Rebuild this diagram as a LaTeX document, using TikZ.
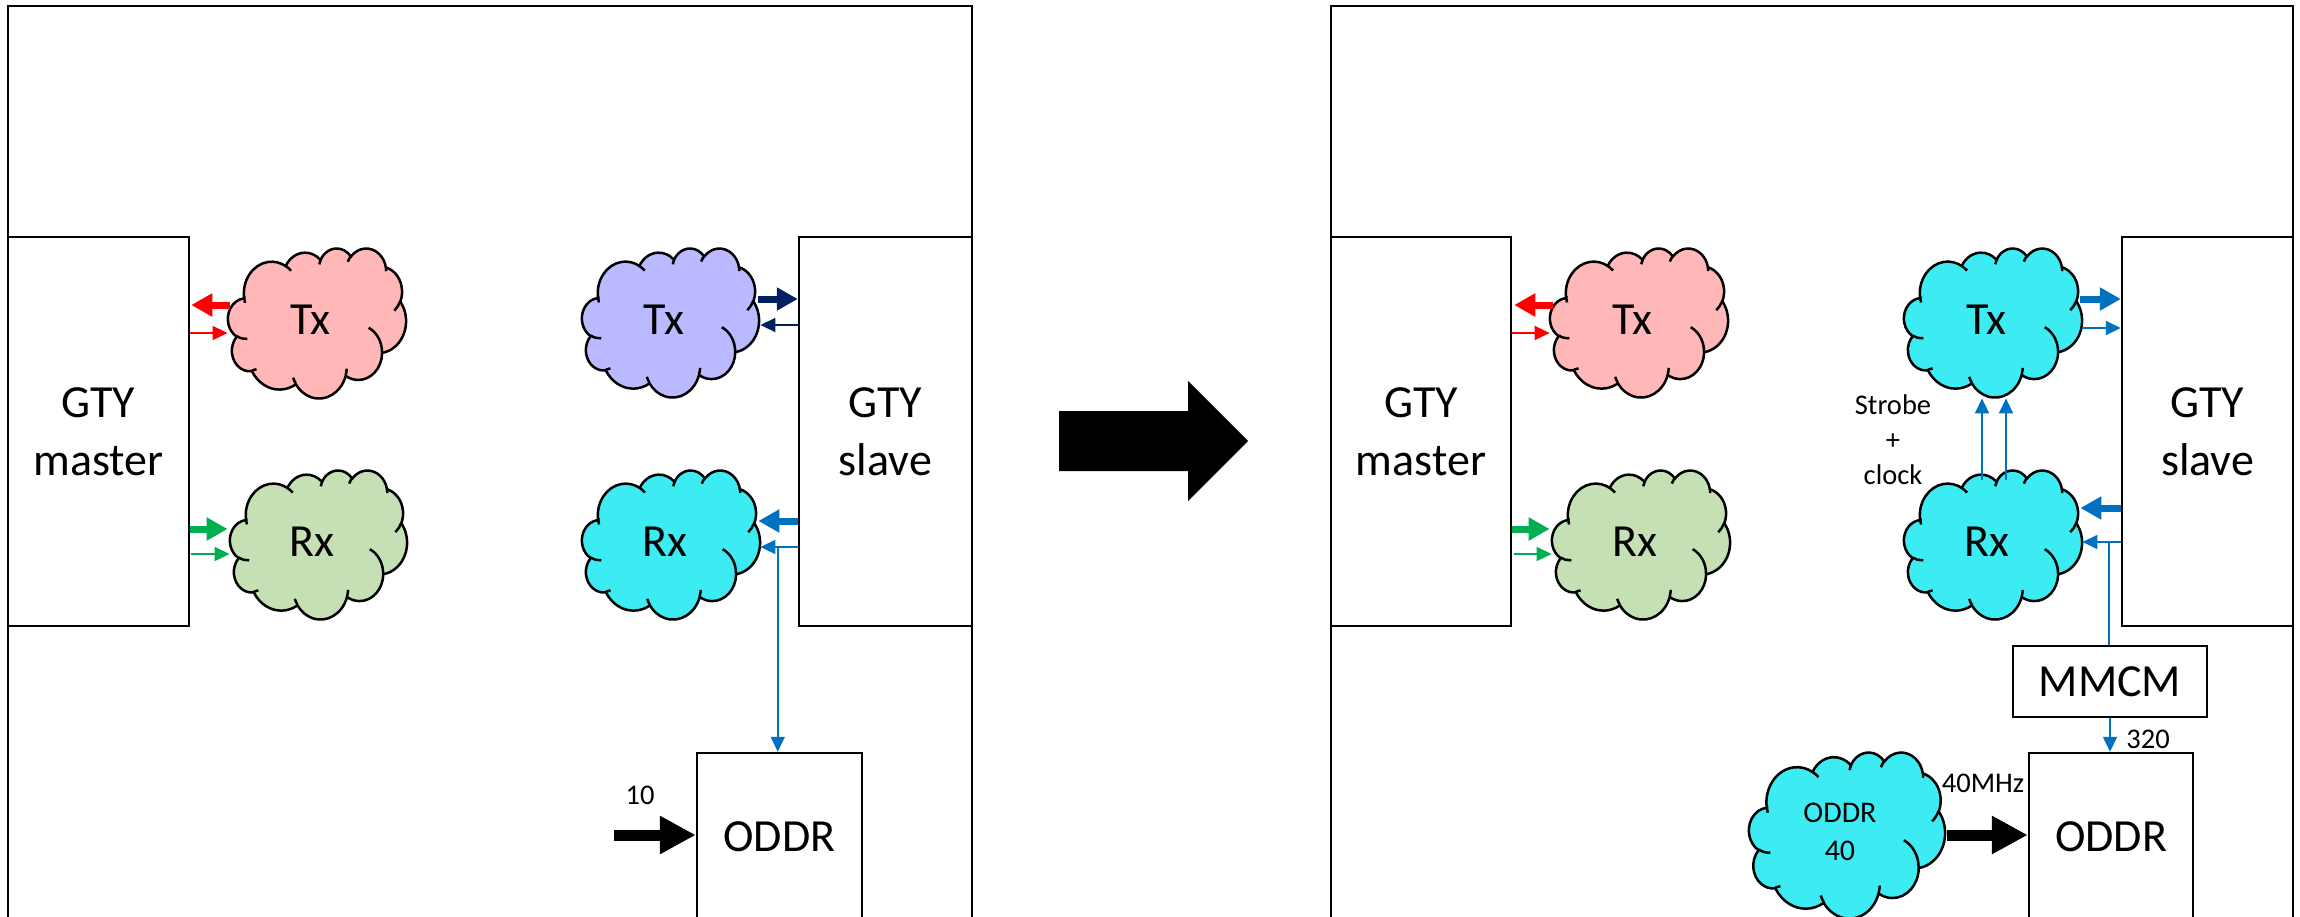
\documentclass[tikz,border=0pt]{standalone}
\usepackage{fontspec}
\setmainfont{Carlito}
\usetikzlibrary{arrows.meta,calc}

\definecolor{cpink}{RGB}{255,183,183}
\definecolor{cgreen}{RGB}{197,224,180}
\definecolor{cpurple}{RGB}{187,185,255}
\definecolor{ccyan}{RGB}{61,235,243}
\definecolor{ared}{RGB}{255,0,0}
\definecolor{agreen}{RGB}{0,176,80}
\definecolor{anavy}{RGB}{0,32,96}
\definecolor{ablue}{RGB}{0,112,192}

\newcommand\bigf{\fontsize{23}{29}\selectfont}
\newcommand\smallf{\fontsize{14.25}{17.5}\selectfont}
\newcommand\midf{\fontsize{15}{19}\selectfont}

% convert DrawingML (visual) angles to parametric TikZ angles
\newcommand\defarc[5]{%
  \pgfmathsetmacro\clTa{atan2((#2)*sin(#4),(#3)*cos(#4))}%
  \pgfmathsetmacro\clTb{atan2((#2)*sin((#4)+(#5)),(#3)*cos((#4)+(#5)))}%
  \pgfmathsetmacro\clTd{\clTb-\clTa}%
  \ifdim #5pt>0pt
    \ifdim \clTd pt<0pt \pgfmathsetmacro\clTd{\clTd+360}\fi
  \else
    \ifdim \clTd pt>0pt \pgfmathsetmacro\clTd{\clTd-360}\fi
  \fi
  \expandafter\xdef\csname cloudS#1\endcsname{\clTa}%
  \expandafter\xdef\csname cloudD#1\endcsname{\clTd}%
}
\defarc{A}{6.753}{9.190}{-190.4875}{123.7805}
\defarc{B}{5.333}{7.267}{-144.1024}{89.9452}
\defarc{C}{4.365}{5.945}{-145.8079}{99.7230}
\defarc{D}{4.857}{6.595}{-130.9861}{117.2417}
\defarc{E}{5.333}{7.273}{-78.7089}{109.0269}
\defarc{F}{6.775}{9.220}{-46.2673}{130.2690}
\defarc{G}{5.785}{7.867}{0.6250}{114.0333}
\defarc{H}{6.752}{9.215}{22.4516}{115.1726}
\defarc{I}{7.720}{10.543}{66.2426}{75.7110}
\defarc{J}{4.360}{5.918}{-274.9421}{146.7356}
\defarc{K}{4.345}{5.945}{-246.8285}{152.5189}
\defarc{a}{4.345}{5.945}{86.7420}{26.4295}
\defarc{b}{4.360}{5.918}{73.6105}{11.4475}
\defarc{c}{6.752}{9.215}{137.6242}{14.0811}
\defarc{d}{6.752}{9.215}{6.4533}{15.9984}
\defarc{e}{5.785}{7.867}{-70.2924}{70.9174}
\defarc{f}{5.333}{7.273}{30.3180}{27.7515}
\defarc{g}{4.857}{6.595}{-13.7443}{14.8589}
\defarc{h}{4.857}{6.595}{-149.1815}{18.1954}
\defarc{i}{4.365}{5.945}{-163.4943}{17.6864}
\defarc{j}{6.753}{9.190}{-66.7070}{12.3194}
\defarc{k}{6.753}{9.190}{162.0359}{15.6123}

\newcommand\drawcloud[1]{%
  \filldraw[cloudline, fill=#1] (3.900,14.370)
   arc[start angle=\cloudSA, delta angle=\cloudDA, x radius=6.753, y radius=9.190]
   arc[start angle=\cloudSB, delta angle=\cloudDB, x radius=5.333, y radius=7.267]
   arc[start angle=\cloudSC, delta angle=\cloudDC, x radius=4.365, y radius=5.945]
   arc[start angle=\cloudSD, delta angle=\cloudDD, x radius=4.857, y radius=6.595]
   arc[start angle=\cloudSE, delta angle=\cloudDE, x radius=5.333, y radius=7.273]
   arc[start angle=\cloudSF, delta angle=\cloudDF, x radius=6.775, y radius=9.220]
   arc[start angle=\cloudSG, delta angle=\cloudDG, x radius=5.785, y radius=7.867]
   arc[start angle=\cloudSH, delta angle=\cloudDH, x radius=6.752, y radius=9.215]
   arc[start angle=\cloudSI, delta angle=\cloudDI, x radius=7.720, y radius=10.543]
   arc[start angle=\cloudSJ, delta angle=\cloudDJ, x radius=4.360, y radius=5.918]
   arc[start angle=\cloudSK, delta angle=\cloudDK, x radius=4.345, y radius=5.945]
   -- cycle;
  \draw[cloudline]
   (4.693,26.177) arc[start angle=\cloudSa, delta angle=\cloudDa, x radius=4.345, y radius=5.945]
   (6.928,34.899) arc[start angle=\cloudSb, delta angle=\cloudDb, x radius=4.360, y radius=5.918]
   (16.478,39.090) arc[start angle=\cloudSc, delta angle=\cloudDc, x radius=6.752, y radius=9.215]
   (28.827,34.751) arc[start angle=\cloudSd, delta angle=\cloudDd, x radius=6.752, y radius=9.215]
   (34.129,22.954) arc[start angle=\cloudSe, delta angle=\cloudDe, x radius=5.785, y radius=7.867]
   (41.798,15.354) arc[start angle=\cloudSf, delta angle=\cloudDf, x radius=5.333, y radius=7.273]
   (38.324,5.426) arc[start angle=\cloudSg, delta angle=\cloudDg, x radius=4.857, y radius=6.595]
   (29.078,3.952) arc[start angle=\cloudSh, delta angle=\cloudDh, x radius=4.857, y radius=6.595]
   (22.141,4.720) arc[start angle=\cloudSi, delta angle=\cloudDi, x radius=4.365, y radius=5.945]
   (14.000,5.192) arc[start angle=\cloudSj, delta angle=\cloudDj, x radius=6.753, y radius=9.190]
   (4.127,15.789) arc[start angle=\cloudSk, delta angle=\cloudDk, x radius=6.753, y radius=9.190];
}

% name, x0, y0, w, h, fill, font, text
\newcommand\cloudnode[8]{%
  \begin{scope}[shift={(#2,#3)}, xscale=#4/43.2, yscale=#5/43.2]
    \drawcloud{#6}
  \end{scope}
  \node[inner sep=0, minimum width=#4*0.5pt, minimum height=#5*0.5pt] (#1) at ({#2+#4/2},{#3+#5/2}) {};
  \node[inner sep=0, font=#7, align=center] (#1-t) at ({#2+0.464*#4},{#3+0.48*#5}) {#8};
}

\begin{document}
\begin{tikzpicture}[x=0.5pt, y=-0.5pt,
  cloudline/.style={line width=1.25pt, line join=round},
  frame/.style={line width=1.4pt},
  box/.style={draw, line width=1.25pt, inner sep=0, font=\bigf, align=center},
  thinarr/.style={line width=0.85pt, -{Triangle[length=7.5pt,width=7pt]}},
  thickarr/.style={line width=3.5pt, -{Triangle[length=10.5pt,width=11pt]}},
  bigarr/.style={line width=5.5pt, -{Triangle[length=18pt,width=18pt]}},
  lbl/.style={inner sep=0, font=\smallf}]
\useasboundingbox (0,0) rectangle (2300,916);
\fill[white] (0,0) rectangle (2300,916);
\clip (0,0) rectangle (2300,916);

% outer frames
\draw[frame] (8,930) -- (8,6) -- (972,6) -- (972,930);
\draw[frame] (1331,930) -- (1331,6) -- (2293,6) -- (2293,930);

% ---------- left panel ----------
\node[box, minimum width=90.5pt, minimum height=194.5pt] (gmL) at (98.5,431.5) {GTY\\master};
\node[box, minimum width=86.5pt, minimum height=194.5pt] (gsL) at (885.5,431.5) {GTY\\slave};
\node[box, minimum width=82.5pt, minimum height=84pt] (odL) at (779.5,837) {ODDR};

\cloudnode{txL}{228}{248}{178}{150}{cpink}{\bigf}{Tx}
\cloudnode{rxL}{230}{470}{177}{149}{cgreen}{\bigf}{Rx}
\cloudnode{txsL}{582}{248}{177}{149}{cpurple}{\bigf}{Tx}
\cloudnode{rxsL}{582}{470}{178}{149}{ccyan}{\bigf}{Rx}

\draw[thickarr, ared] ($(txL.west)+(2,-18)$) -- ($(gmL.east|-txL.west)+(1,-18)$);
\draw[thinarr, ared] ($(gmL.east|-txL.west)+(0,10)$) -- ($(txL.west)+(0,10)$);
\draw[thickarr, agreen] ($(gmL.east|-rxL.west)+(0,-15.5)$) -- ($(rxL.west)+(-2,-15.5)$);
\draw[thinarr, agreen] ($(gmL.east|-rxL.west)+(1,9.5)$) -- ($(rxL.west)+(0,9.5)$);

\draw[thickarr, anavy] ($(txsL.east)+(-1,-23.5)$) -- ($(gsL.west|-txsL.east)+(0,-23.5)$);
\draw[thinarr, anavy] ($(gsL.west|-txsL.east)+(0,2.5)$) -- ($(txsL.east)+(1,2.5)$);
\draw[thickarr, ablue] ($(gsL.west|-rxsL.east)+(0,-23.5)$) -- ($(rxsL.east)+(-2,-23.5)$);
\draw[thinarr, ablue] ($(gsL.west|-rxsL.east)+(0,2.5)$) -- ($(rxsL.east)+(0,2.5)$);
\coordinate (jL) at ($(gsL.west|-rxsL.east)+(-20,2.5)$);
\draw[thinarr, ablue] (jL) -- (jL|-odL.north);

\draw[bigarr] ($(odL.west)+(-82,-2)$) -- ($(odL.west)+(0,-2)$);
\node[lbl] (l10) at (640,795) {10};

% ---------- big middle arrow ----------
\fill (1059,411) -- (1188,411) -- (1188,381) -- (1248,441) -- (1188,501) -- (1188,471) -- (1059,471) -- cycle;

% ---------- right panel ----------
\node[box, minimum width=90pt, minimum height=194.5pt] (gmR) at (1421,431.5) {GTY\\master};
\node[box, minimum width=85.5pt, minimum height=194.5pt] (gsR) at (2207.5,431.5) {GTY\\slave};
\node[box, minimum width=97pt, minimum height=35.5pt] (mmcm) at (2110,681.5) {MMCM};
\node[box, minimum width=82pt, minimum height=84pt] (odR) at (2111,837) {ODDR};

\cloudnode{txR}{1550}{248}{178}{149}{cpink}{\bigf}{Tx}
\cloudnode{rxR}{1552}{470}{178}{149}{cgreen}{\bigf}{Rx}
\cloudnode{txsR}{1904}{248}{178}{149}{ccyan}{\bigf}{Tx}
\cloudnode{rxsR}{1904}{470}{178}{149}{ccyan}{\bigf}{Rx}
\cloudnode{o40}{1749}{752}{196}{166}{ccyan}{\midf}{ODDR\\40}

\draw[thickarr, ared] ($(txR.west)+(3,-17.5)$) -- ($(gmR.east|-txR.west)+(2,-17.5)$);
\draw[thinarr, ared] ($(gmR.east|-txR.west)+(0,10.5)$) -- ($(txR.west)+(0,10.5)$);
\draw[thickarr, agreen] ($(gmR.east|-rxR.west)+(0,-15.5)$) -- ($(rxR.west)+(-2,-15.5)$);
\draw[thinarr, agreen] ($(gmR.east|-rxR.west)+(2,9.5)$) -- ($(rxR.west)+(0,9.5)$);

\draw[thickarr, ablue] ($(txsR.east)+(-2,-23.5)$) -- ($(gsR.west|-txsR.east)+(0,-23.5)$);
\draw[thinarr, ablue] ($(txsR.east)+(0,5.5)$) -- ($(gsR.west|-txsR.east)+(0,5.5)$);
\draw[thickarr, ablue] ($(gsR.west|-rxsR.east)+(0,-36.5)$) -- ($(rxsR.east)+(-2,-36.5)$);
\draw[thinarr, ablue] ($(gsR.west|-rxsR.east)+(0,-2.5)$) -- ($(rxsR.east)+(0,-2.5)$);
\coordinate (jR) at ($(gsR.west|-rxsR.east)+(-12,-2.5)$);
\draw[line width=0.85pt, ablue] (jR) -- (jR|-mmcm.north);
\draw[thinarr, ablue] (mmcm.south) -- (mmcm.south|-odR.north);
\node[lbl] (l320) at (2148,739) {320};

\draw[thinarr, ablue] ($(rxsR.north)+(-11,10)$) -- ($(txsR.south)+(-11,1)$);
\draw[thinarr, ablue] ($(rxsR.north)+(13,10)$) -- ($(txsR.south)+(13,1)$);
\node[lbl, align=center] (strobe) at (1893,440) {Strobe\\+\\clock};

\draw[bigarr] ($(o40.east)+(2,0)$) -- (o40.east-|odR.west);
\node[lbl] (l40) at (1983,783) {40MHz};
\end{tikzpicture}
\end{document}
